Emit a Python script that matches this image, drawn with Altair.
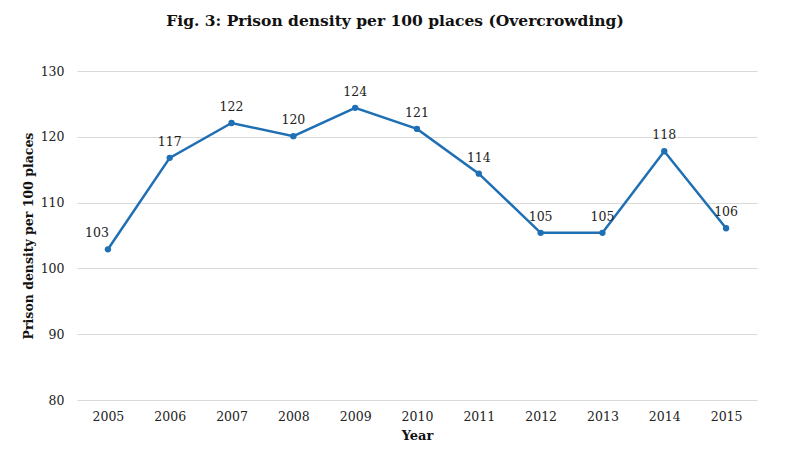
import altair as alt
import pandas as pd

years = ["2005", "2006", "2007", "2008", "2009", "2010", "2011", "2012", "2013", "2014", "2015"]
density = [102.9, 116.8, 122.1, 120.1, 124.4, 121.2, 114.4, 105.4, 105.4, 117.8, 106.1]
labels = ["103", "117", "122", "120", "124", "121", "114", "105", "105", "118", "106"]

df = pd.DataFrame({"Year": years, "Density": density, "Label": labels})

FONT = "DejaVu Serif"
BLUE = "#1f6fb5"

x = alt.X("Year:O", title="Year",
          scale=alt.Scale(type="point", padding=0.5),
          axis=alt.Axis(labelAngle=0, ticks=False, domain=False, grid=False,
                        labelPadding=10, labelFontSize=12.5, labelColor="#222",
                        labelFont=FONT, titleFont=FONT, titleFontSize=13,
                        titleFontWeight="bold", titleColor="#111", titlePadding=7))
y = alt.Y("Density:Q", title="Prison density per 100 places",
          scale=alt.Scale(domain=[80, 130]),
          axis=alt.Axis(values=[80, 90, 100, 110, 120, 130], ticks=False, domain=False,
                        gridColor="#d9d9d9", gridWidth=1, labelPadding=13,
                        labelFontSize=12.5, labelColor="#222", labelFont=FONT,
                        titleFont=FONT, titleFontSize=12.5, titleFontWeight="bold",
                        titleColor="#111", titlePadding=5))

base = alt.Chart(df)
line = base.mark_line(color=BLUE, strokeWidth=2.5).encode(x=x, y=y)
pts = base.mark_point(color=BLUE, filled=True, opacity=1, size=40).encode(x=x, y=y)
txt = base.transform_filter(alt.datum.Year != "2005").mark_text(
    font=FONT, fontSize=12.5, color="#222", dy=-16).encode(x=x, y=y, text="Label:N")
txt0 = base.transform_filter(alt.datum.Year == "2005").mark_text(
    font=FONT, fontSize=12.5, color="#222", dy=-16, dx=-11).encode(x=x, y=y, text="Label:N")

chart = (line + pts + txt + txt0).properties(
    width=680, height=329,
    title=alt.TitleParams("Fig. 3: Prison density per 100 places (Overcrowding)",
                          font=FONT, fontSize=15.5, fontWeight="bold", color="#111",
                          anchor="middle", offset=36, dx=-22),
    autosize="none",
    padding={"left": 69, "top": 63, "right": 26, "bottom": 42},
).configure(background="white").configure_view(stroke=None, strokeWidth=0)

chart.save("out.html", embed_options={"renderer": "svg", "actions": False})
